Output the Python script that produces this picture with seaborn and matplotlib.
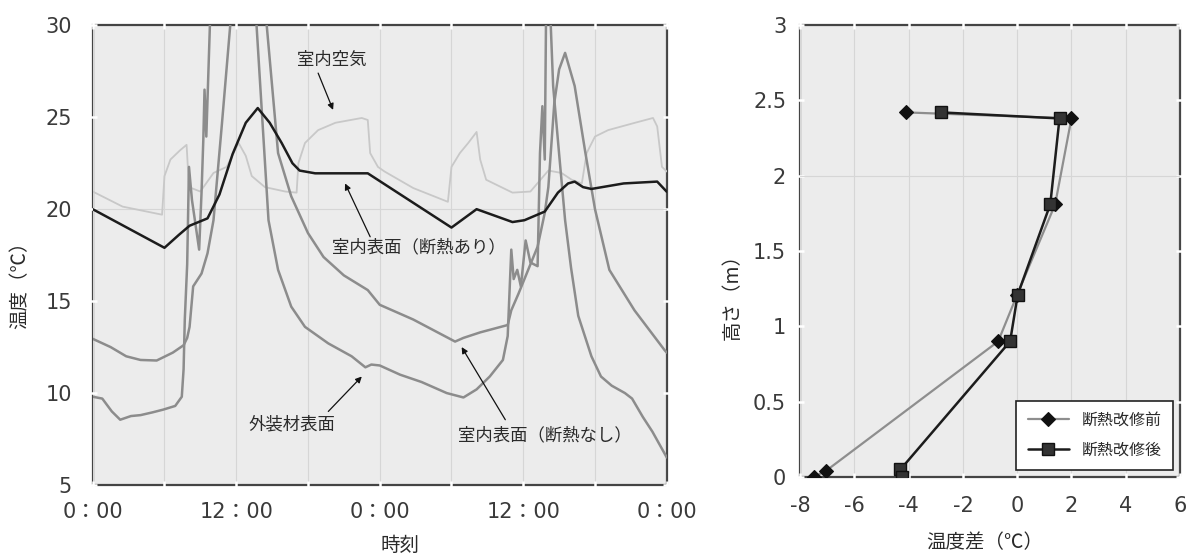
import matplotlib
matplotlib.use('Agg')
import matplotlib.pyplot as plt
import seaborn as sns

# ---------------- left chart data (hours from 0:00, temperature degC) ----------------
hours_surface_ins = [0, 3, 6, 7.2, 8.1, 9.6, 10.6, 11.7, 12.8, 13.8, 14.8, 15.8, 16.7, 17.3, 18.6,
                     23.0, 30.0, 32.1, 35.1, 36.1, 37.8, 38.9, 39.75, 40.3, 41.0, 41.7, 44.4, 47.2, 48]
temp_surface_ins = [20.0, 18.95, 17.9, 18.6, 19.1, 19.5, 20.8, 23.0, 24.7, 25.5, 24.7, 23.6, 22.5, 22.1, 21.95,
                    21.95, 19.0, 20.0, 19.3, 19.4, 19.87, 20.9, 21.4, 21.5, 21.2, 21.1, 21.4, 21.5, 20.95]

hours_air = [0, 2.5, 5.8, 6.0, 6.5, 7.3, 7.85, 8.05, 9.0, 10.1, 11.2, 12.2, 12.8, 13.3, 14.4, 16.1, 17.05,
             17.2, 17.75, 18.85, 20.3, 22.5, 23.0, 23.2, 23.85, 24.4, 26.8, 29.7, 30.0, 30.7, 31.4, 32.1,
             32.4, 32.9, 35.1, 36.6, 38.1, 39.2, 40.05, 40.9, 41.3, 42.0, 43.1, 45.35, 46.85, 47.2, 47.6, 48]
temp_air = [20.96, 20.14, 19.7, 21.8, 22.7, 23.2, 23.5, 21.2, 20.96, 21.97, 22.3, 23.6, 22.9, 21.8, 21.2,
            20.96, 20.9, 22.5, 23.6, 24.3, 24.7, 24.96, 24.85, 23.05, 22.3, 22.05, 21.15, 20.4, 22.3, 23.05,
            23.6, 24.2, 22.7, 21.6, 20.9, 20.96, 22.1, 21.97, 21.6, 21.4, 23.05, 23.95, 24.3, 24.7, 24.96,
            24.5, 22.3, 22.05]

hours_surface_noins = [0, 1.5, 2.8, 4.0, 5.35, 6.7, 7.6, 7.9, 8.1, 8.4, 9.1, 9.6, 10.1, 10.8, 11.5, 12.5,
                       13.8, 14.55, 15.5, 16.6, 18.0, 19.3, 21.0, 23.0, 24.0, 26.8, 30.3, 31.0, 32.4, 34.7,
                       35.0, 35.6, 36.1, 37.2, 37.8, 38.1, 38.6, 39.0, 39.5, 40.3, 41.2, 42.0, 43.2, 45.3,
                       47.8, 48]
temp_surface_noins = [12.95, 12.5, 12.0, 11.8, 11.77, 12.2, 12.6, 13.0, 13.6, 15.8, 16.5, 17.6, 19.4, 24.6,
                      30.0, 33.0, 33.0, 30.0, 23.05, 20.7, 18.7, 17.4, 16.4, 15.6, 14.8, 14.0, 12.8, 13.0,
                      13.3, 13.7, 14.5, 15.4, 16.2, 17.96, 19.8, 21.2, 25.8, 27.6, 28.5, 26.7, 23.05, 20.0,
                      16.7, 14.5, 12.35, 12.2]

hours_exterior = [0, 0.8, 1.6, 2.3, 3.2, 4.0, 5.0, 5.9, 6.9, 7.45, 7.6, 7.7, 7.9, 8.05, 8.3, 8.9, 9.1,
                  9.25, 9.35, 9.5, 9.8, 10.2, 13.3, 13.7, 14.7, 15.5, 16.6, 17.75, 19.7, 21.65, 22.8, 23.3,
                  24.0, 25.7, 27.5, 29.6, 31.0, 32.1, 33.2, 34.3, 34.7, 35.0, 35.2, 35.5, 35.8, 36.2, 36.6,
                  37.2, 37.4, 37.6, 37.8, 37.9, 38.1, 38.3, 38.5, 39.0, 39.5, 40.0, 40.6, 41.7, 42.5, 43.4,
                  44.5, 45.1, 46.0, 46.8, 48]
temp_exterior = [9.8, 9.7, 9.0, 8.55, 8.75, 8.8, 8.95, 9.1, 9.3, 9.8, 11.3, 14.0, 17.0, 22.3, 20.5, 17.8,
                 20.9, 23.8, 26.5, 23.95, 30.0, 33.0, 33.0, 30.0, 19.4, 16.7, 14.7, 13.6, 12.7, 12.0, 11.4,
                 11.55, 11.5, 11.0, 10.6, 10.0, 9.76, 10.2, 10.9, 11.8, 13.1, 17.8, 16.2, 16.7, 15.8, 18.3,
                 17.1, 16.9, 23.05, 25.6, 22.7, 30.0, 33.0, 30.0, 26.7, 23.0, 19.4, 16.8, 14.2, 12.0, 10.9,
                 10.4, 10.0, 9.7, 8.7, 7.9, 6.5]

time_ticks = [0, 6, 12, 18, 24, 30, 36, 42, 48]
time_labels = ['0：00', '', '12：00', '', '0：00', '', '12：00', '', '0：00']
temp_ticks = [5, 10, 15, 20, 25, 30]

# ---------------- right chart data ----------------
diff_before = [-4.1, 2.0, 1.4, 0.0, -0.7, -7.05, -7.5]
height_before = [2.42, 2.38, 1.81, 1.21, 0.90, 0.04, 0.0]
diff_after = [-2.8, 1.56, 1.22, 0.02, -0.26, -4.3, -4.25]
height_after = [2.42, 2.38, 1.81, 1.21, 0.90, 0.05, 0.0]
diff_ticks = [-8, -6, -4, -2, 0, 2, 4, 6]
diff_labels = ['-8', '-6', '-4', '-2', '0', '2', '4', '6']
height_ticks = [0, 0.5, 1, 1.5, 2, 2.5, 3]
height_labels = ['0', '0.5', '1', '1.5', '2', '2.5', '3']

# ---------------- style ----------------
BG = '#ececec'
GRID = '#d6d6d6'
sns.set_theme(style='darkgrid', rc={
    'axes.facecolor': BG,
    'grid.color': GRID,
    'grid.linewidth': 0.8,
    'axes.edgecolor': '#444444',
    'axes.linewidth': 1.6,
})
plt.rcParams['font.family'] = ['DejaVu Sans', 'Noto Sans CJK JP']
plt.rcParams['axes.unicode_minus'] = False

CJK = ['Noto Sans CJK JP', 'DejaVu Sans']
TXT = '#2a2a2a'

fig = plt.figure(figsize=(11.9, 5.56), dpi=100)
fig.patch.set_facecolor('white')
ax1 = fig.add_axes([0.0779, 0.1277, 0.4824, 0.8268])
ax2 = fig.add_axes([0.6723, 0.1421, 0.3193, 0.8129])


def style_axes(ax):
    for sp in ax.spines.values():
        sp.set_visible(True)
        sp.set_color('#444444')
        sp.set_linewidth(1.6)
        sp.set_zorder(0.4)
    ax.tick_params(which='major', top=True, right=True, bottom=True, left=True,
                   direction='inout', length=6, width=1.8, color='white',
                   labelcolor='#3a3a3a', labelsize=15)


# ---------------- left chart ----------------
sns.lineplot(x=hours_air, y=temp_air, ax=ax1, color='#c8c8c8', lw=1.3, sort=False, estimator=None)
sns.lineplot(x=hours_surface_noins, y=temp_surface_noins, ax=ax1, color='#8c8c8c', lw=1.8,
             sort=False, estimator=None)
sns.lineplot(x=hours_exterior, y=temp_exterior, ax=ax1, color='#8c8c8c', lw=1.8,
             sort=False, estimator=None)
sns.lineplot(x=hours_surface_ins, y=temp_surface_ins, ax=ax1, color='#1c1c1c', lw=1.8,
             sort=False, estimator=None)

ax1.set_xlim(0, 48)
ax1.set_ylim(5, 30)
ax1.set_xticks(time_ticks)
ax1.set_xticklabels(time_labels)
ax1.set_yticks(temp_ticks)
ax1.grid(axis='x', visible=True)
ax1.grid(axis='y', visible=False)
ax1.axhline(20, color=GRID, lw=0.8, zorder=0.6)
style_axes(ax1)
ax1.tick_params(axis='y', pad=12)
ax1.tick_params(axis='x', pad=9)

ax1.set_xlabel('時刻', fontsize=14, color=TXT, family=CJK)
ax1.xaxis.set_label_coords(0.535, -0.108)
ax1.set_ylabel('温度（℃）', fontsize=14, color=TXT, family=CJK)
ax1.yaxis.set_label_coords(-0.108, 0.446)

arrow_kw = dict(arrowstyle='-|>', color='#111111', lw=0.9, mutation_scale=9, shrinkA=0, shrinkB=0)
label_kw = dict(fontsize=12.5, color=TXT, family=CJK, ha='center', va='center')

ax1.text(20.0, 28.1, '室内空気', **label_kw)
ax1.annotate('', xy=(20.1, 25.4), xytext=(18.85, 27.4), arrowprops=arrow_kw)
ax1.text(27.3, 17.94, '室内表面（断熱あり）', **label_kw)
ax1.annotate('', xy=(21.1, 21.4), xytext=(23.2, 18.5), arrowprops=arrow_kw)
ax1.text(16.7, 8.3, '外装材表面', **label_kw)
ax1.annotate('', xy=(22.5, 10.9), xytext=(19.7, 9.0), arrowprops=arrow_kw)
ax1.text(37.8, 7.7, '室内表面（断熱なし）', **label_kw)
ax1.annotate('', xy=(30.85, 12.5), xytext=(34.5, 8.55), arrowprops=arrow_kw)

# ---------------- right chart ----------------
sns.lineplot(x=diff_before, y=height_before, ax=ax2, sort=False, estimator=None,
             color='#8e8e8e', lw=1.6, marker='D', markersize=7,
             markerfacecolor='#111111', markeredgecolor='#111111', markeredgewidth=0.8,
             label='断熱改修前')
sns.lineplot(x=diff_after, y=height_after, ax=ax2, sort=False, estimator=None,
             color='#1c1c1c', lw=1.8, marker='s', markersize=9,
             markerfacecolor='#333333', markeredgecolor='#111111', markeredgewidth=1.0,
             label='断熱改修後')

ax2.set_xlim(-8, 6)
ax2.set_ylim(0, 3)
ax2.set_xticks(diff_ticks)
ax2.set_xticklabels(diff_labels)
ax2.set_yticks(height_ticks)
ax2.set_yticklabels(height_labels)
ax2.grid(axis='x', visible=True)
ax2.grid(axis='y', visible=False)
ax2.axhline(2, color=GRID, lw=0.8, zorder=0.6)
style_axes(ax2)
ax2.tick_params(axis='y', pad=7)
ax2.tick_params(axis='x', pad=11)

ax2.set_xlabel('温度差（℃）', fontsize=14, color=TXT, family=CJK)
ax2.xaxis.set_label_coords(0.487, -0.122)
ax2.set_ylabel('高さ（m）', fontsize=14, color=TXT, family=CJK)
ax2.yaxis.set_label_coords(-0.15, 0.41)

leg = ax2.legend(loc='lower right', bbox_to_anchor=(0.982, 0.0155), borderaxespad=0,
                 frameon=True, fancybox=False, framealpha=1, edgecolor='#222222',
                 facecolor='white', handlelength=2.6, borderpad=0.7, labelspacing=0.8,
                 prop={'family': CJK, 'size': 11.5})
leg.get_frame().set_linewidth(1.2)
for t in leg.get_texts():
    t.set_color(TXT)

fig.savefig('out.png', dpi=100, facecolor='white')
